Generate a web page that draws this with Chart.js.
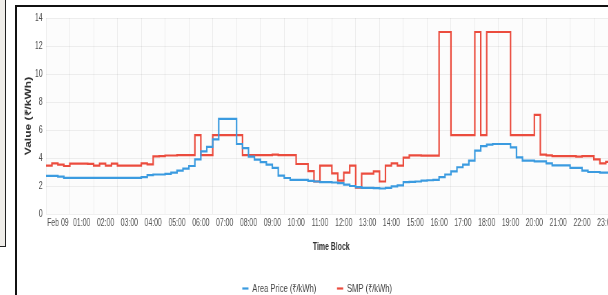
<!DOCTYPE html>
<html>
<head>
<meta charset="utf-8">
<script src="https://cdn.jsdelivr.net/npm/chart.js@4.4.0/dist/chart.umd.min.js"></script>
<style>
  html, body { margin: 0; padding: 0; background: #fff; }
  body { width: 608px; height: 295px; overflow: hidden; position: relative; }
  #side { position: absolute; left: 0; top: 0; width: 5px; height: 246px; background: #efede9;
          border-right: 1px solid #222; border-bottom: 1px solid #222; }
  #frame { position: absolute; left: 15px; top: 5px; width: 640px; height: 330px;
           border: 2px solid #111; box-sizing: border-box; }
  /* the reference is squeezed sideways, so the chart is drawn wide and scaled down */
  #wrap { position: absolute; left: 17px; top: 7px; width: 870px; height: 297px;
          transform: scaleX(0.69); transform-origin: 0 0; }
</style>
</head>
<body>
<div id="side"></div>
<div id="frame"></div>
<div id="wrap"><canvas id="myChart"></canvas></div>
<script>
'use strict';

// 15-minute time blocks, first block starts half an hour before 00:00
let blockStart = -0.5;
let blockLen = 0.25;

let areaPrice = [
  2.72, 2.72, 2.67, 2.58, 2.58, 2.58, 2.58, 2.58, 2.58, 2.58, 2.58, 2.58, 2.58, 2.58, 2.58, 2.58,
  2.63, 2.77, 2.82, 2.82, 2.86, 2.96, 3.1, 3.24, 3.43, 3.9, 4.47, 4.8, 5.33, 6.8, 6.8, 6.8,
  5.0, 4.7, 4.1, 3.88, 3.7, 3.52, 3.3, 2.74, 2.57, 2.44, 2.44, 2.44, 2.37, 2.32, 2.27, 2.27,
  2.25, 2.2, 2.1, 2.0, 1.92, 1.87, 1.87, 1.85, 1.82, 1.87, 1.97, 2.05, 2.27, 2.3, 2.32, 2.39,
  2.41, 2.44, 2.63, 2.82, 3.05, 3.34, 3.53, 3.81, 4.52, 4.85, 4.95, 5.0, 5.0, 5.0, 4.76, 4.05,
  3.81, 3.81, 3.76, 3.76, 3.62, 3.48, 3.48, 3.48, 3.29, 3.29, 3.1, 3.0, 3.0, 2.96, 2.96, 2.93
];

let smp = [
  3.45, 3.62, 3.53, 3.43, 3.6, 3.6, 3.6, 3.58, 3.45, 3.6, 3.45, 3.6, 3.45, 3.45, 3.45, 3.45,
  3.62, 3.55, 4.12, 4.14, 4.18, 4.18, 4.2, 4.2, 4.2, 5.63, 4.2, 4.2, 5.63, 5.63, 5.63, 5.63,
  5.63, 4.2, 4.2, 4.2, 4.2, 4.2, 4.24, 4.2, 4.2, 4.2, 3.57, 3.57, 3.06, 2.32, 3.45, 3.45,
  2.9, 2.38, 2.95, 3.45, 1.88, 2.88, 2.88, 3.05, 2.32, 3.45, 3.62, 3.45, 4.02, 4.19, 4.19, 4.17,
  4.17, 4.17, 13, 13, 5.63, 5.63, 5.63, 5.63, 13, 5.63, 13, 13, 13, 13, 5.63, 5.63,
  5.63, 5.63, 7.08, 4.24, 4.19, 4.14, 4.14, 4.14, 4.14, 4.1, 4.14, 4.14, 3.9, 3.62, 3.72, 3.7
];

let tickLabels = [
  'Feb 09', '01:00', '02:00', '03:00', '04:00', '05:00', '06:00', '07:00', '08:00', '09:00', '10:00', '11:00',
  '12:00', '13:00', '14:00', '15:00', '16:00', '17:00', '18:00', '19:00', '20:00', '21:00', '22:00', '23:00'
];

let seriesNames = ['Area Price (₹/kWh)', 'SMP (₹/kWh)'];

function toPoints(values) {
  return values.map((v, i) => ({ x: blockStart + i * blockLen, y: v }));
}

const plotBg = {
  id: 'plotBg',
  beforeDraw(chart) {
    const a = chart.chartArea;
    chart.ctx.save();
    chart.ctx.fillStyle = '#fcfcfc';
    chart.ctx.fillRect(a.left, a.top, a.right - a.left, a.bottom - a.top);
    chart.ctx.restore();
  }
};

const fontFamily = "'Liberation Sans', Arial, sans-serif";

let ctx = document.getElementById('myChart').getContext('2d');
let myChart = new Chart(ctx, {
  type: 'line',
  data: {
    datasets: [{
      label: seriesNames[0],
      data: toPoints(areaPrice),
      borderColor: '#3b9be0',
      backgroundColor: '#3b9be0',
      borderWidth: 2.2,
      pointRadius: 0,
      stepped: true
    },
    {
      label: seriesNames[1],
      data: toPoints(smp),
      borderColor: '#eb4c3e',
      backgroundColor: '#eb4c3e',
      borderWidth: 2.2,
      pointRadius: 0,
      stepped: true
    }]
  },
  options: {
    responsive: true,
    maintainAspectRatio: false,
    animation: false,
    layout: { padding: { top: 9, left: 0, right: 0, bottom: 0 } },
    plugins: {
      tooltip: { enabled: false },
      legend: {
        position: 'bottom',
        labels: {
          usePointStyle: true,
          pointStyle: 'line',
          pointStyleWidth: 9,
          boxHeight: 7,
          padding: 30,
          color: '#444',
          font: { family: fontFamily, size: 11 }
        }
      }
    },
    scales: {
      x: {
        type: 'linear',
        min: -0.5,
        max: 23.45,
        afterBuildTicks: (scale) => {
          scale.ticks = tickLabels.map((t, i) => ({ value: i }));
        },
        afterFit: (scale) => { scale.height = 39; },
        ticks: {
          autoSkip: false,
          maxRotation: 0,
          padding: 3,
          color: '#555',
          font: { family: fontFamily, size: 10 },
          callback: (v) => tickLabels[v]
        },
        grid: { color: 'rgba(0,0,0,0.06)', offset: true, drawTicks: false },
        border: { display: false },
        title: {
          display: true,
          text: 'Time Block',
          color: '#333',
          font: { family: fontFamily, size: 10, weight: 'bold' },
          padding: { top: 0, bottom: 0 }
        }
      },
      y: {
        min: 0,
        max: 14,
        afterFit: (scale) => { scale.width = 42; },
        ticks: {
          stepSize: 2,
          padding: 5,
          color: '#555',
          font: { family: fontFamily, size: 10 }
        },
        grid: { color: 'rgba(0,0,0,0.06)', drawTicks: false },
        border: { display: false },
        title: {
          display: true,
          text: 'Value (₹/kWh)',
          color: '#333',
          font: { family: fontFamily, size: 12, weight: 'bold' },
          padding: { top: 9, bottom: 0 }
        }
      }
    }
  },
  plugins: [plotBg]
});
</script>
</body>
</html>
